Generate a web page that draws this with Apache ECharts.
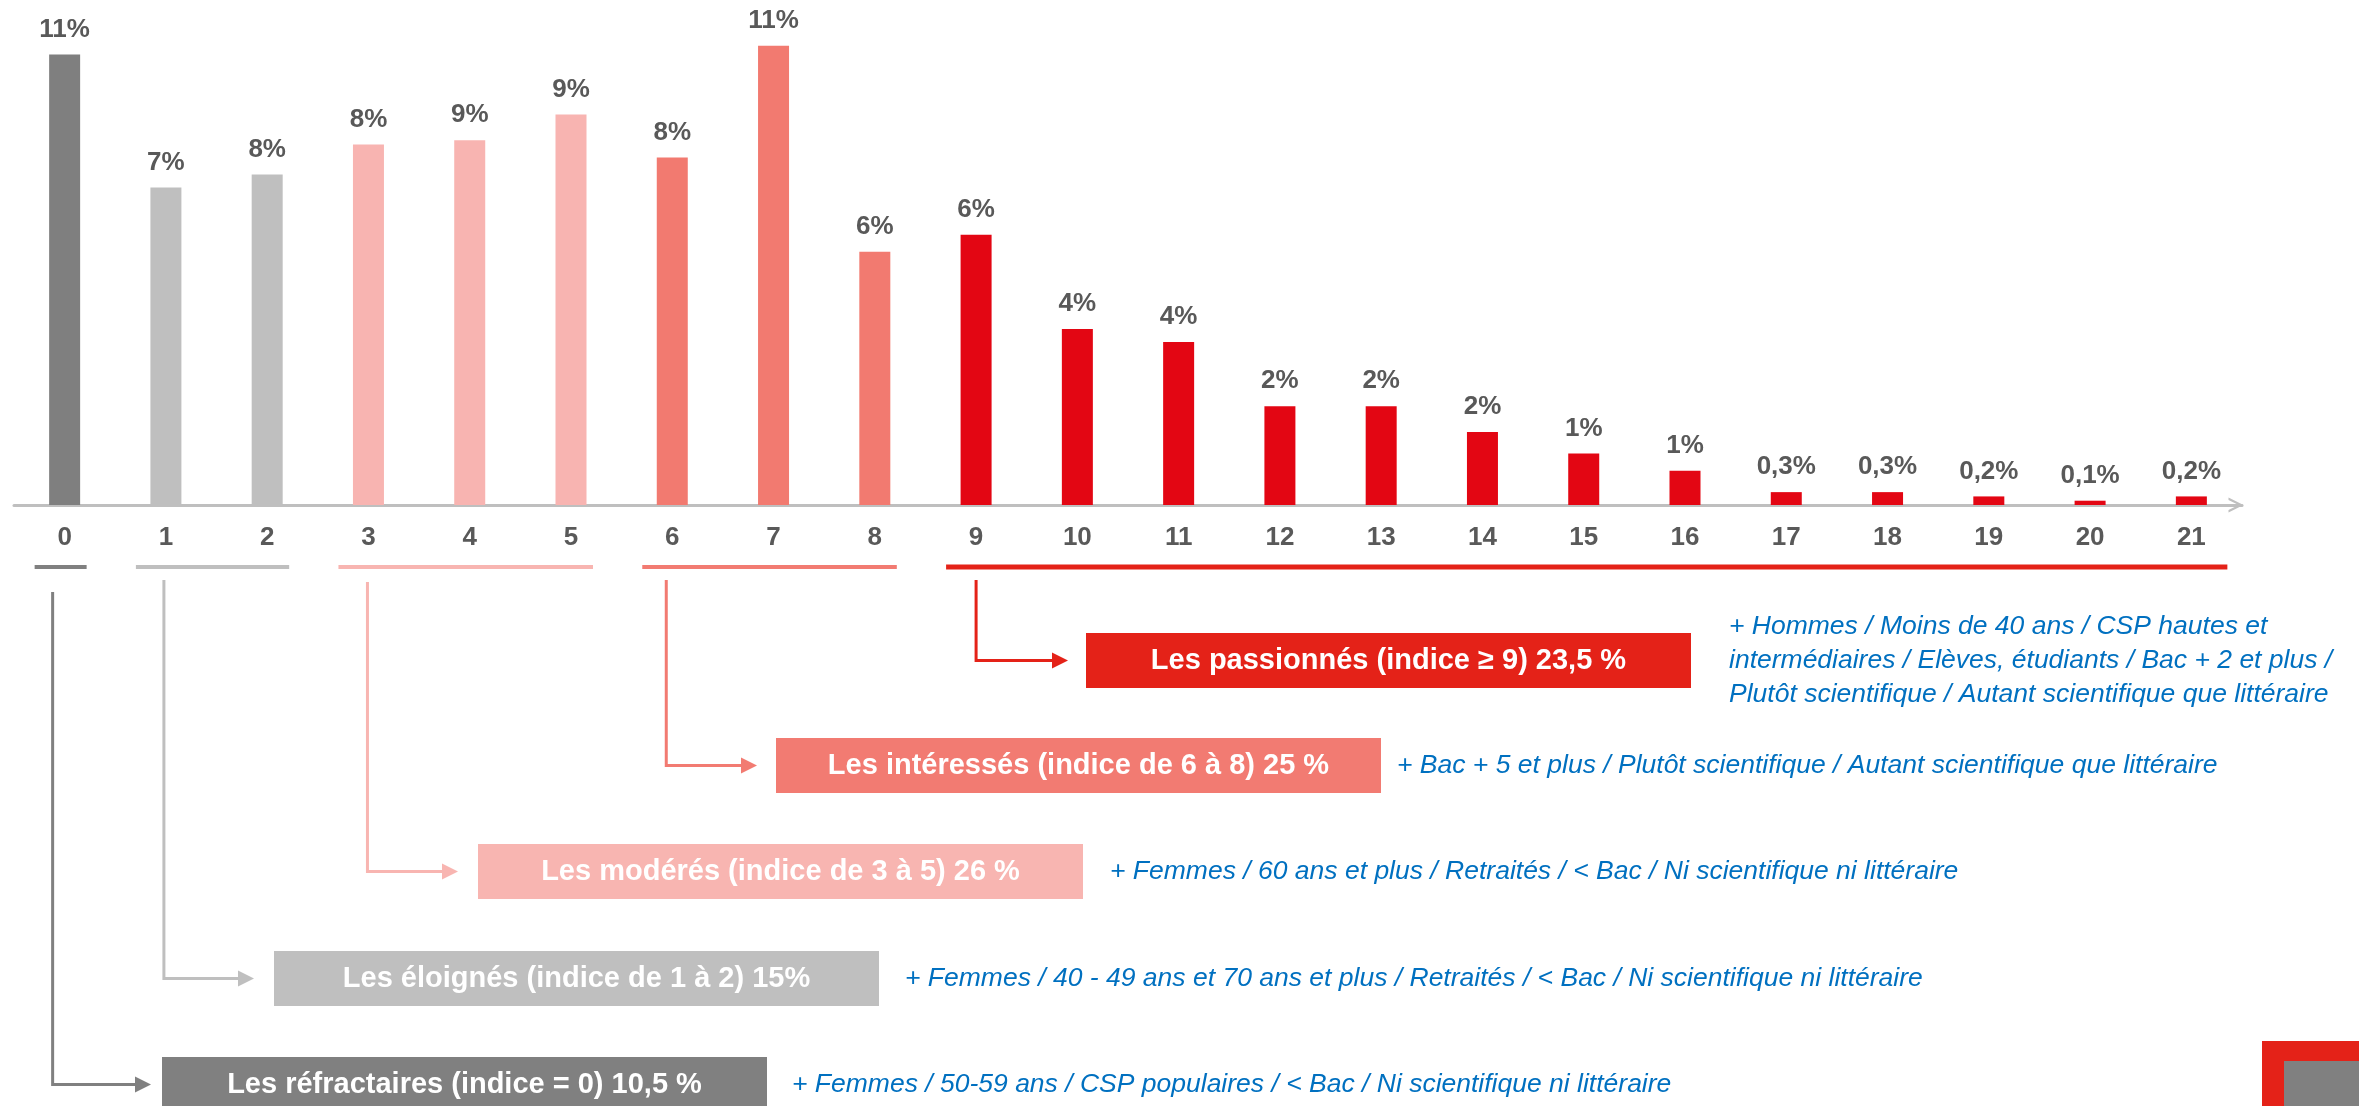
<!DOCTYPE html>
<html>
<head>
<meta charset="utf-8">
<title>Indice d'intérêt</title>
<script src="https://cdn.jsdelivr.net/npm/echarts@6/dist/echarts.min.js"></script>
<style>
html, body { margin: 0; padding: 0; background: #fff; }
#main { width: 2359px; height: 1106px; }
</style>
</head>
<body>
<div id="main"></div>
<script>
// données (en %)
var categories = ['0', '1', '2', '3', '4', '5', '6', '7', '8', '9', '10',
  '11', '12', '13', '14', '15', '16', '17', '18', '19', '20', '21'];
var values = [10.5, 7.4, 7.7, 8.4, 8.5, 9.1, 8.1, 10.7, 5.9, 6.3, 4.1,
  3.8, 2.3, 2.3, 1.7, 1.2, 0.8, 0.3, 0.3, 0.2, 0.1, 0.2];

// groupes
var groupNames = [
  'Les réfractaires (indice = 0) 10,5 %',
  'Les éloignés (indice de 1 à 2) 15%',
  'Les modérés (indice de 3 à 5) 26 %',
  'Les intéressés (indice de 6 à 8) 25 %',
  'Les passionnés (indice ≥ 9) 23,5 %'
];
var groupFirst = [0, 1, 3, 6, 9];
var groupLast = [0, 2, 5, 8, 21];
var groupNotes = [
  ['+ Femmes / 50-59 ans / CSP populaires / < Bac / Ni scientifique ni littéraire'],
  ['+ Femmes / 40 - 49 ans et 70 ans et plus / Retraités / < Bac / Ni scientifique ni littéraire'],
  ['+ Femmes / 60 ans et plus / Retraités / < Bac / Ni scientifique ni littéraire'],
  ['+ Bac + 5 et plus / Plutôt scientifique / Autant scientifique que littéraire'],
  ['+ Hommes / Moins de 40 ans / CSP hautes et',
   'intermédiaires / Elèves, étudiants / Bac + 2 et plus /',
   'Plutôt scientifique / Autant scientifique que littéraire']
];

var barColors = ['#7f7f7f', '#bfbfbf', '#f8b4b1', '#f27a70', '#e30613'];
var boxColors = ['#808080', '#bfbfbf', '#f8b5b1', '#f27b72', '#e42218'];

// mise en page des encadrés (px)
var boxLeft = [162, 274, 478, 776, 1086];
var boxTop = [1057, 951, 844, 738, 633];
var boxW = 605, boxH = 55;
var noteX = [792, 905, 1110, 1397, 1729];
var stemY = [592, 580, 582, 580, 580];
var stemDx = [-12, -2, -1, -6, 0];
var tipGap = [11, 20, 20, 19, 18];

var FONT = '"Liberation Sans", Arial, sans-serif';

function groupOf(i) {
  for (var g = groupFirst.length - 1; g >= 0; g--) {
    if (i >= groupFirst[g]) return g;
  }
  return 0;
}

var barData = values.map(function (v, i) {
  return { value: v, itemStyle: { color: barColors[groupOf(i)] } };
});

var myChart = echarts.init(document.getElementById('main'));

var option = {
  animation: false,
  backgroundColor: '#fff',
  grid: { left: 14, right: 117, top: 33, bottom: 601 },
  xAxis: {
    type: 'category',
    data: categories,
    axisTick: { show: false },
    axisLine: {
      lineStyle: { color: '#bfbfbf', width: 3 },
      symbol: ['none', 'path://M0,16 L8,0 L16,16 L13.4,16 L8,5.2 L2.6,16 Z'],
      symbolSize: [16, 15],
      symbolOffset: [0, -6]
    },
    axisLabel: {
      color: '#595959', fontWeight: 'bold', fontSize: 26,
      fontFamily: FONT, margin: 20
    }
  },
  yAxis: { type: 'value', min: 0, max: 11, show: false },
  series: [{
    type: 'bar',
    data: barData,
    barWidth: 31,
    label: {
      show: true,
      position: 'top',
      distance: 12,
      color: '#595959',
      fontWeight: 'bold',
      fontSize: 26,
      fontFamily: FONT,
      formatter: function (p) {
        var v = p.value;
        if (v < 0.5) return v.toFixed(1).replace('.', ',') + '%';
        return Math.round(v) + '%';
      }
    }
  }]
};
myChart.setOption(option);

// annotations : crochets, flèches, encadrés, textes
var els = [];
var bracketY = 567;
for (var g = 0; g < groupNames.length; g++) {
  var x0 = myChart.convertToPixel({ xAxisIndex: 0 }, categories[groupFirst[g]]);
  var x1 = myChart.convertToPixel({ xAxisIndex: 0 }, categories[groupLast[g]]);
  var col = boxColors[g];
  var right = x1 + (groupLast[g] === 21 ? 36 : 22);
  els.push({
    type: 'line',
    shape: { x1: x0 - 30, y1: bracketY, x2: right, y2: bracketY },
    style: { stroke: col, lineWidth: g === 4 ? 5 : 4 }
  });
  var sx = x0 + stemDx[g];
  var cy = boxTop[g] + boxH / 2;
  var tip = boxLeft[g] - tipGap[g];
  els.push({
    type: 'polyline',
    shape: { points: [[sx, stemY[g]], [sx, cy], [tip - 12, cy]] },
    style: { stroke: col, lineWidth: 3, fill: null }
  });
  els.push({
    type: 'polygon',
    shape: { points: [[tip, cy], [tip - 16, cy - 8], [tip - 16, cy + 8]] },
    style: { fill: col }
  });
  els.push({
    type: 'rect',
    shape: { x: boxLeft[g], y: boxTop[g], width: boxW, height: boxH },
    style: { fill: col }
  });
  els.push({
    type: 'text',
    style: {
      text: groupNames[g], x: boxLeft[g] + boxW / 2, y: cy,
      fill: '#fff', font: 'bold 29px ' + FONT,
      textAlign: 'center', textVerticalAlign: 'middle'
    }
  });
  var lines = groupNotes[g];
  var lh = 34;
  for (var k = 0; k < lines.length; k++) {
    els.push({
      type: 'text',
      style: {
        text: lines[k], x: noteX[g], y: cy + (k - (lines.length - 1) / 2) * lh,
        fill: '#0070c0', font: 'italic 26.5px ' + FONT,
        textAlign: 'left', textVerticalAlign: 'middle'
      }
    });
  }
}
// petit logo en bas à droite
els.push({ type: 'rect', shape: { x: 2262, y: 1041, width: 100, height: 70 }, style: { fill: '#e42218' } });
els.push({ type: 'rect', shape: { x: 2284, y: 1061, width: 80, height: 50 }, style: { fill: '#808080' } });

myChart.setOption({ graphic: { elements: els } });
</script>
</body>
</html>
